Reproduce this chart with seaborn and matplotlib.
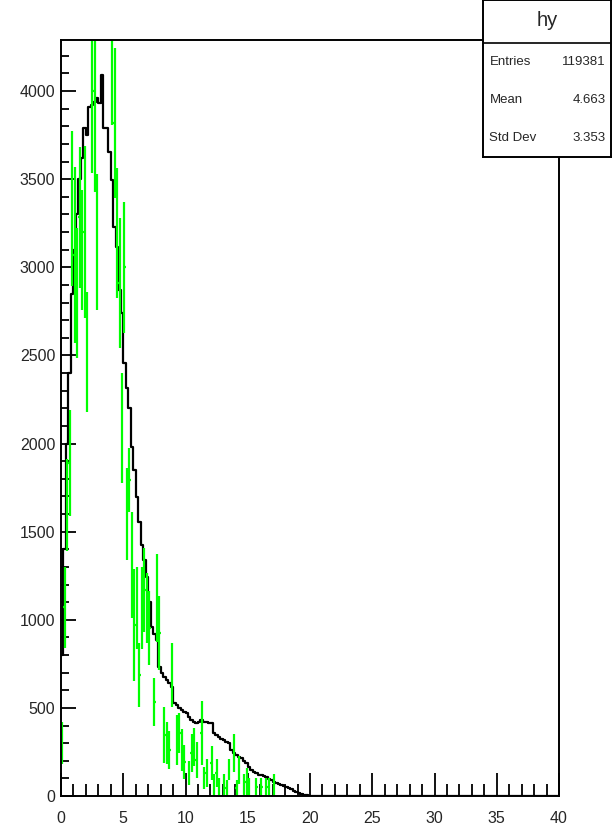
import numpy as np
import pandas as pd
import matplotlib
matplotlib.use("Agg")
import matplotlib.pyplot as plt
import seaborn as sns
from matplotlib.ticker import MultipleLocator

# histogram binning: 200 bins over 0..40
bin_lo = 0.0
bin_hi = 40.0
n_bins = 200

# black histogram (hy), counts for the first 100 bins, rest are empty
hy_counts = [
    800, 1400, 2000, 2400, 2850, 3100, 3300, 3500, 3620, 3790,
    3750, 3909, 3920, 3937, 3960, 3930, 4090, 3790, 3790, 3654,
    3495, 3228, 3115, 2870, 2740, 2456, 2315, 2200, 1980, 1850,
    1697, 1555, 1424, 1340, 1243, 1100, 960, 920, 885, 732,
    700, 675, 658, 640, 618, 528, 517, 500, 488, 475,
    470, 450, 431, 420, 414, 420, 430, 420, 420, 414,
    414, 357, 345, 335, 325, 318, 308, 300, 261, 245,
    232, 220, 215, 200, 187, 165, 148, 135, 130, 122,
    119, 112, 108, 98, 91, 82, 76, 70, 60, 57,
    50, 45, 40, 30, 23, 15, 10, 6, 4, 2,
]

# green overlay: value and error per bin (nan = empty bin)
nan = float("nan")
green_vals = [
    300, 1072, 1651, 1889, 3336, 3070, 2854, 3285, 3098, 3200,
    2519, nan, 4108, 4000, 3143, nan, nan, nan, nan, nan,
    4250, 3818, 3194, 2910, 2088, 3000, 1600, 1793, 1310, 970,
    1067, 686, 1067, 1169, 1067, 953, nan, 533, 1123, 925,
    nan, 346, 300, 261, 686, nan, 318, 357, 261, 193,
    nan, 130, 244, 278, 204, nan, 357, 102, 130, nan,
    187, 62, 130, 51, nan, 62, 45, 148, nan, 244,
    45, 148, nan, 62, 79, 51, nan, nan, 51, nan,
    51, nan, 51, 51, nan, 62,
]
green_errs = [
    120, 230, 260, 300, 440, 500, 370, 400, 340, 490,
    340, nan, 570, 570, 385, nan, nan, nan, nan, nan,
    440, 425, 370, 370, 310, 370, 260, 180, 300, 320,
    230, 180, 230, 240, 200, 210, nan, 135, 250, 210,
    nan, 160, 120, 110, 180, nan, 140, 115, 120, 95,
    nan, 70, 110, 110, 100, nan, 180, 60, 80, nan,
    95, 62, 80, 51, nan, 62, 45, 60, nan, 110,
    45, 80, nan, 62, 79, 51, nan, nan, 51, nan,
    51, nan, 51, 51, nan, 62,
]

stats_title = "hy"
stats_rows = [("Entries", "119381"), ("Mean", "4.663"), ("Std Dev", "3.353")]

x_ticks = [0, 5, 10, 15, 20, 25, 30, 35, 40]
y_ticks = [0, 500, 1000, 1500, 2000, 2500, 3000, 3500, 4000]

sns.set_theme(style="white")
plt.rcParams["font.family"] = ["Liberation Sans", "DejaVu Sans"]

W, H = 613, 834
fig = plt.figure(figsize=(W / 100, H / 100), dpi=100)
ax = fig.add_axes([61 / W, 1 - 796 / H, (559 - 61) / W, (796 - 40) / H])

width = (bin_hi - bin_lo) / n_bins
counts = np.zeros(n_bins)
counts[: len(hy_counts)] = hy_counts
centers = bin_lo + width * (np.arange(n_bins) + 0.5)
df = pd.DataFrame({"x": centers, "w": counts})

sns.histplot(data=df, x="x", weights="w", bins=n_bins, binrange=(bin_lo, bin_hi),
             element="step", fill=False, color="black", linewidth=1.6, ax=ax)

gv = np.array(green_vals, dtype=float)
ge = np.array(green_errs, dtype=float)
gx = centers[: len(gv)]
ok = ~np.isnan(gv)
ax.errorbar(gx[ok], gv[ok], yerr=ge[ok], xerr=width / 2, fmt="none",
            ecolor="#00ff00", elinewidth=1.6, capsize=0)

ax.set_xlim(bin_lo, bin_hi)
ax.set_ylim(0, 4290)
ax.set_xlabel("")
ax.set_ylabel("")
ax.set_xticks(x_ticks)
ax.set_yticks(y_ticks)
ax.xaxis.set_minor_locator(MultipleLocator(1))
ax.yaxis.set_minor_locator(MultipleLocator(100))
ax.tick_params(which="both", direction="in", top=False, right=False,
               bottom=True, left=True, color="black", width=1.3)
ax.tick_params(which="major", labelsize=11.5)
ax.tick_params(axis="x", which="major", length=16.5, pad=11)
ax.tick_params(axis="x", which="minor", length=8.5)
ax.tick_params(axis="y", which="major", length=11, pad=4)
ax.tick_params(axis="y", which="minor", length=5.8)
for s in ax.spines.values():
    s.set_color("black")
    s.set_linewidth(1.4)

# stats box in the top right corner
bx = fig.add_axes([483 / W, 1 - 157 / H, 128 / W, 157 / H])
bx.set_xlim(0, 1)
bx.set_ylim(0, 157)
bx.set_xticks([])
bx.set_yticks([])
bx.set_facecolor("white")
for s in bx.spines.values():
    s.set_color("black")
    s.set_linewidth(1.4)
bx.axhline(157 - 43, color="black", linewidth=1.2)
bx.text(0.5, 157 - 21, stats_title, ha="center", va="center", fontsize=14.5)
for i, (k, v) in enumerate(stats_rows):
    yy = 157 - (62 + 38 * i)
    bx.text(0.05, yy, k, ha="left", va="center", fontsize=9.5)
    bx.text(0.96, yy, v, ha="right", va="center", fontsize=9.5)

fig.savefig("out.png", dpi=100)
